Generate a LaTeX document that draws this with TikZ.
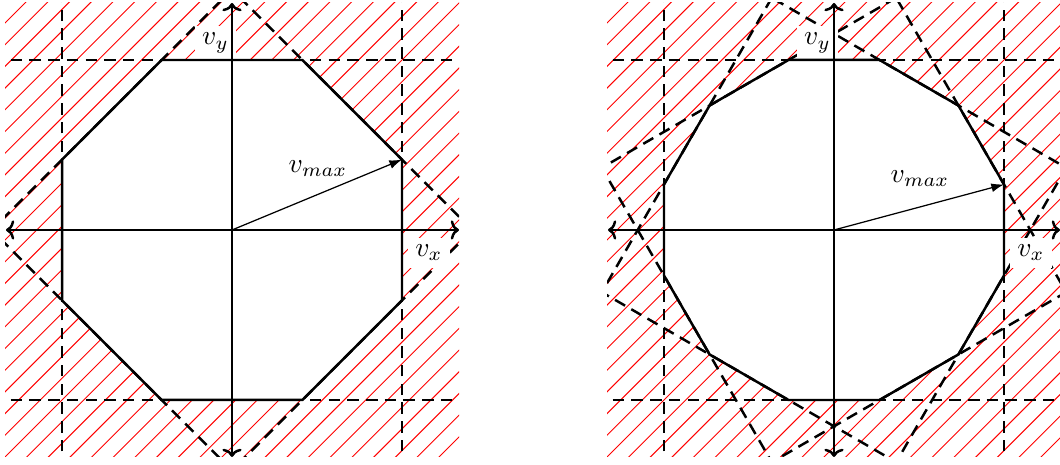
\documentclass[tikz,border=0pt]{standalone}
\usetikzlibrary{arrows.meta}
\begin{document}
\begin{tikzpicture}[x=0.3636pt,y=0.3636pt,
  hatch/.style={red, line width=0.35pt},
  guide/.style={line width=0.9pt, dash pattern=on 4.2pt off 2.6pt},
  axis/.style={line width=0.9pt, {To[length=3pt,width=7pt]}-{To[length=3pt,width=7pt]}},
  poly/.style={line width=0.9pt, line join=miter},
  vec/.style={line width=0.45pt, -{Latex[length=4.6pt,width=3.2pt]}},
  lab/.style={fill=white, inner sep=2.6pt}]
\useasboundingbox (0,0) rectangle (1060,465);

% ---------------- left panel: octagon ----------------
\begin{scope}[shift={(232,235)}]
  \begin{scope}
    \clip (-227,-227) rectangle (227,227);
    \foreach \k in {-21,...,21} \draw[hatch] (\k*21.7-240,-240) -- ++(480,480);
    \fill[white] (22.5:184) -- (67.5:184) -- (112.5:184) -- (157.5:184)
      -- (202.5:184) -- (247.5:184) -- (292.5:184) -- (337.5:184) -- cycle;
    \draw[guide] (0:240.4) -- (90:240.4) -- (180:240.4) -- (270:240.4) -- cycle;
    \draw[guide] (-170,-240) -- (-170,240);
    \draw[guide] (170,-240) -- (170,240);
    \draw[guide] (-240,-170) -- (240,-170);
    \draw[guide] (-240,170) -- (240,170);
  \end{scope}
  \node[lab] (vyL) at (-16.5,187) {$v_y$};
  \node[lab] (vxL) at (197,-23) {$v_x$};
  \node (vmL) at (86,61) {$v_{max}$};
  \draw[poly] (22.5:184) -- (67.5:184) -- (112.5:184) -- (157.5:184)
    -- (202.5:184) -- (247.5:184) -- (292.5:184) -- (337.5:184) -- cycle;
  \coordinate (xaL) at (-226,0);
  \coordinate (xbL) at (227,0);
  \coordinate (yaL) at (0,-227);
  \coordinate (ybL) at (0,227);
  \draw[axis] (xaL) -- (xbL);
  \draw[axis] (yaL) -- (ybL);
  \coordinate (OL) at (0,0);
  \coordinate (PL) at (22.5:184);
  \draw[vec] (OL) -- (PL);
\end{scope}

% ---------------- right panel: 12-gon ----------------
\begin{scope}[shift={(834,235)}]
  \begin{scope}
    \clip (-227,-227) rectangle (227,227);
    \foreach \k in {-21,...,21} \draw[hatch] (\k*21.7-240,-240) -- ++(480,480);
    \fill[white] (15:176) -- (45:176) -- (75:176) -- (105:176) -- (135:176)
      -- (165:176) -- (195:176) -- (225:176) -- (255:176) -- (285:176)
      -- (315:176) -- (345:176) -- cycle;
    \draw[guide] (75:240.4) -- (165:240.4) -- (255:240.4) -- (345:240.4) -- cycle;
    \draw[guide] (105:240.4) -- (195:240.4) -- (285:240.4) -- (15:240.4) -- cycle;
    \draw[guide] (-170,-240) -- (-170,240);
    \draw[guide] (170,-240) -- (170,240);
    \draw[guide] (-240,-170) -- (240,-170);
    \draw[guide] (-240,170) -- (240,170);
  \end{scope}
  \node[lab] (vyR) at (-16.5,187) {$v_y$};
  \node[lab] (vxR) at (197,-23) {$v_x$};
  \node (vmR) at (86,51) {$v_{max}$};
  \draw[poly] (15:176) -- (45:176) -- (75:176) -- (105:176) -- (135:176)
    -- (165:176) -- (195:176) -- (225:176) -- (255:176) -- (285:176)
    -- (315:176) -- (345:176) -- cycle;
  \coordinate (xaR) at (-226,0);
  \coordinate (xbR) at (226,0);
  \coordinate (yaR) at (0,-227);
  \coordinate (ybR) at (0,227);
  \draw[axis] (xaR) -- (xbR);
  \draw[axis] (yaR) -- (ybR);
  \coordinate (OR) at (0,0);
  \coordinate (PR) at (15:176);
  \draw[vec] (OR) -- (PR);
\end{scope}
\end{tikzpicture}
\end{document}
